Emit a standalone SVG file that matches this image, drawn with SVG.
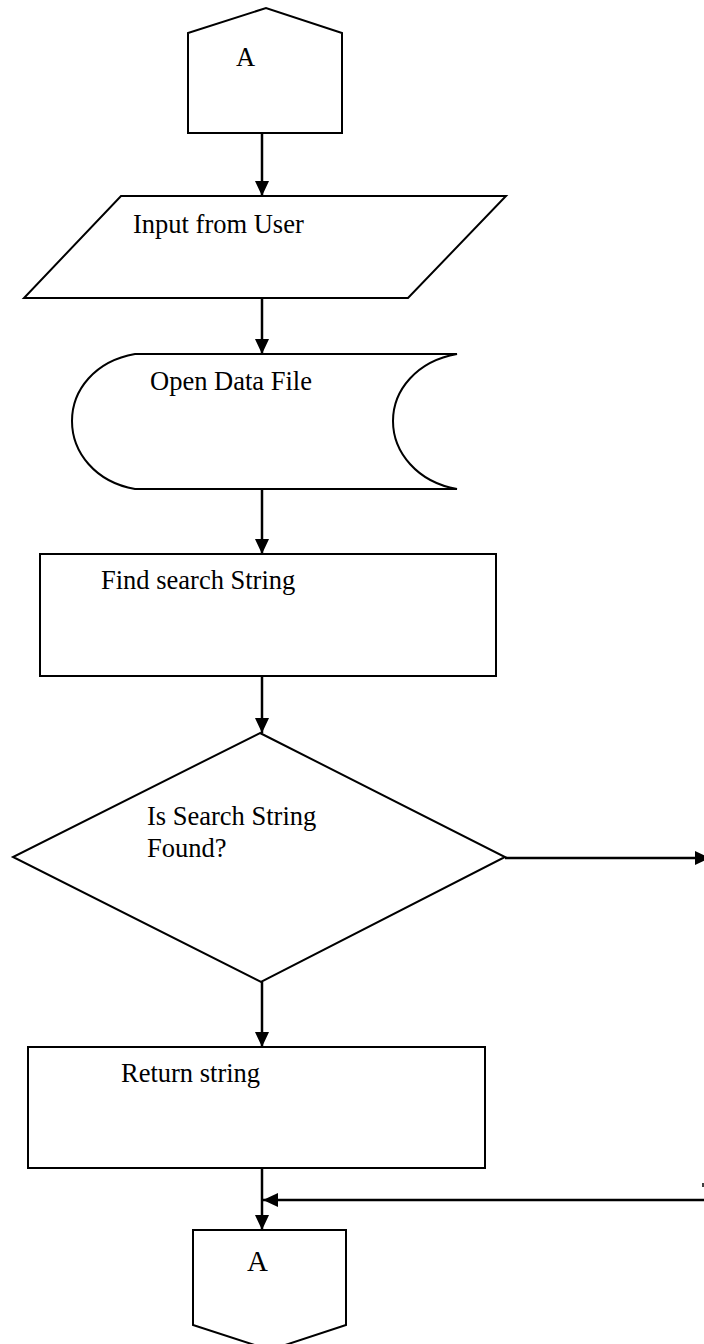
<svg xmlns="http://www.w3.org/2000/svg" width="704" height="1344" viewBox="0 0 704 1344">
<style>
.shape{fill:#fff;stroke:#000;stroke-width:2}
.conn{fill:none;stroke:#000;stroke-width:2.5}
.lbl{font-family:"Liberation Serif","Times New Roman",serif;font-size:26.5px;fill:#000}
</style>
<defs>
<marker id="ah" viewBox="0 0 15 14" refX="15" refY="7" markerWidth="15" markerHeight="14" markerUnits="userSpaceOnUse" orient="auto">
<path d="M0,0 L15,7 L0,14 Z" fill="#000"/>
</marker>
</defs>
<rect width="704" height="1344" fill="#fff"/>
<g id="connectors">
<line class="conn" x1="262" y1="133" x2="262" y2="196" marker-end="url(#ah)"/>
<line class="conn" x1="262" y1="298" x2="262" y2="354" marker-end="url(#ah)"/>
<line class="conn" x1="262" y1="489" x2="262" y2="554" marker-end="url(#ah)"/>
<line class="conn" x1="262" y1="676" x2="262" y2="733" marker-end="url(#ah)"/>
<line class="conn" x1="262" y1="982" x2="262" y2="1047" marker-end="url(#ah)"/>
<line class="conn" x1="505" y1="858" x2="710" y2="858" marker-end="url(#ah)"/>
<line class="conn" x1="262" y1="1168" x2="262" y2="1230" marker-end="url(#ah)"/>
<line class="conn" x1="704" y1="1200" x2="263" y2="1200" marker-end="url(#ah)"/>
<line x1="703" y1="1183" x2="703" y2="1187" stroke="#000" stroke-width="1.5"/>
</g>
<g id="start-connector">
<path class="shape" d="M188,133 L188,33 L266,8 L342,33 L342,133 Z"/>
<text class="lbl" x="236" y="66">A</text>
</g>
<g id="input">
<path class="shape" d="M121,196 L506,196 L408,298 L24,298 Z"/>
<text class="lbl" x="133" y="233">Input from User</text>
</g>
<g id="open-file">
<path class="shape" d="M135,354 L457,354 C417,361 393,390 393,421 C393,452 417,482 457,489 L135,489 C95,482 72,452 72,421 C72,390 95,361 135,354 Z"/>
<text class="lbl" x="150" y="390">Open Data File</text>
</g>
<g id="find">
<rect class="shape" x="40" y="554" width="456" height="122"/>
<text class="lbl" x="101" y="589">Find search String</text>
</g>
<g id="decision">
<path class="shape" d="M260,733 L505,857 L261,982 L13,857 Z"/>
<text class="lbl" x="147" y="825">Is Search String</text>
<text class="lbl" x="147" y="857">Found?</text>
</g>
<g id="return">
<rect class="shape" x="28" y="1047" width="457" height="121"/>
<text class="lbl" x="121" y="1082">Return string</text>
</g>
<g id="end-connector">
<path class="shape" d="M193,1230 L346,1230 L346,1325 L270,1350 L193,1325 Z"/>
<text class="lbl" x="247" y="1271" style="font-size:29px">A</text>
</g>
</svg>
